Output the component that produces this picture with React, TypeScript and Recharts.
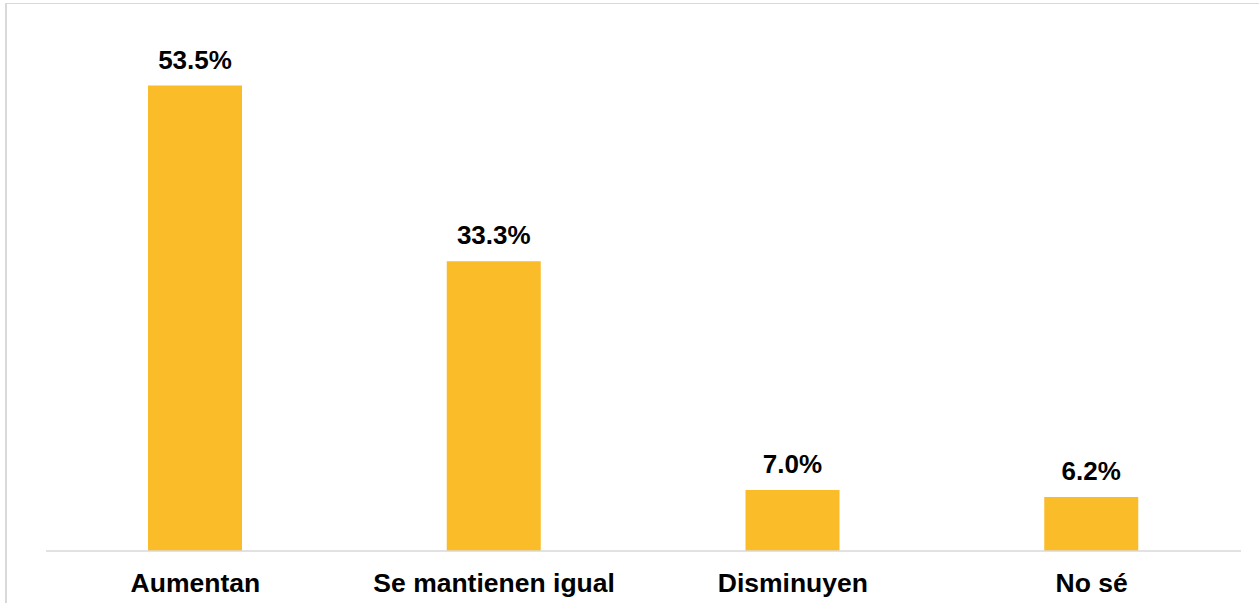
import { BarChart, Bar, XAxis, YAxis, LabelList } from 'recharts';

const categories = ['Aumentan', 'Se mantienen igual', 'Disminuyen', 'No sé'];
const values = [53.5, 33.3, 7.0, 6.2];

const data = categories.map((name, i) => ({ name, value: values[i] }));

const FONT = '"Liberation Sans", Arial, sans-serif';

export default function App() {
  return (
    <div
      style={{
        position: 'absolute',
        left: 0,
        top: 0,
        width: 1259,
        height: 603,
        overflow: 'hidden',
        background: '#fff',
        fontFamily: FONT,
      }}
    >
      <div
        style={{
          position: 'absolute',
          left: 5,
          top: 3,
          width: 1400,
          height: 800,
          borderTop: '1.5px solid #d9d9d9',
          borderLeft: '2px solid #d9d9d9',
        }}
      />
      <div style={{ position: 'absolute', left: 0, top: 0 }}>
        <BarChart
          width={1259}
          height={603}
          data={data}
          margin={{ top: 29, right: 18, bottom: 0, left: 46 }}
        >
          <XAxis
            dataKey="name"
            height={52}
            axisLine={{ stroke: '#d9d9d9', strokeWidth: 1.5 }}
            tickLine={false}
            tickSize={0}
            tickMargin={22}
            interval={0}
            tick={{ fill: '#000', fontSize: 26.5, fontWeight: 700, fontFamily: FONT }}
          />
          <YAxis hide domain={[0, 60]} />
          <Bar dataKey="value" fill="#FBBC29" barSize={94} isAnimationActive={false}>
            <LabelList
              dataKey="value"
              position="top"
              offset={17}
              formatter={(v: number) => `${v.toFixed(1)}%`}
              style={{ fill: '#000', fontSize: 26, fontWeight: 700, fontFamily: FONT }}
            />
          </Bar>
        </BarChart>
      </div>
    </div>
  );
}
